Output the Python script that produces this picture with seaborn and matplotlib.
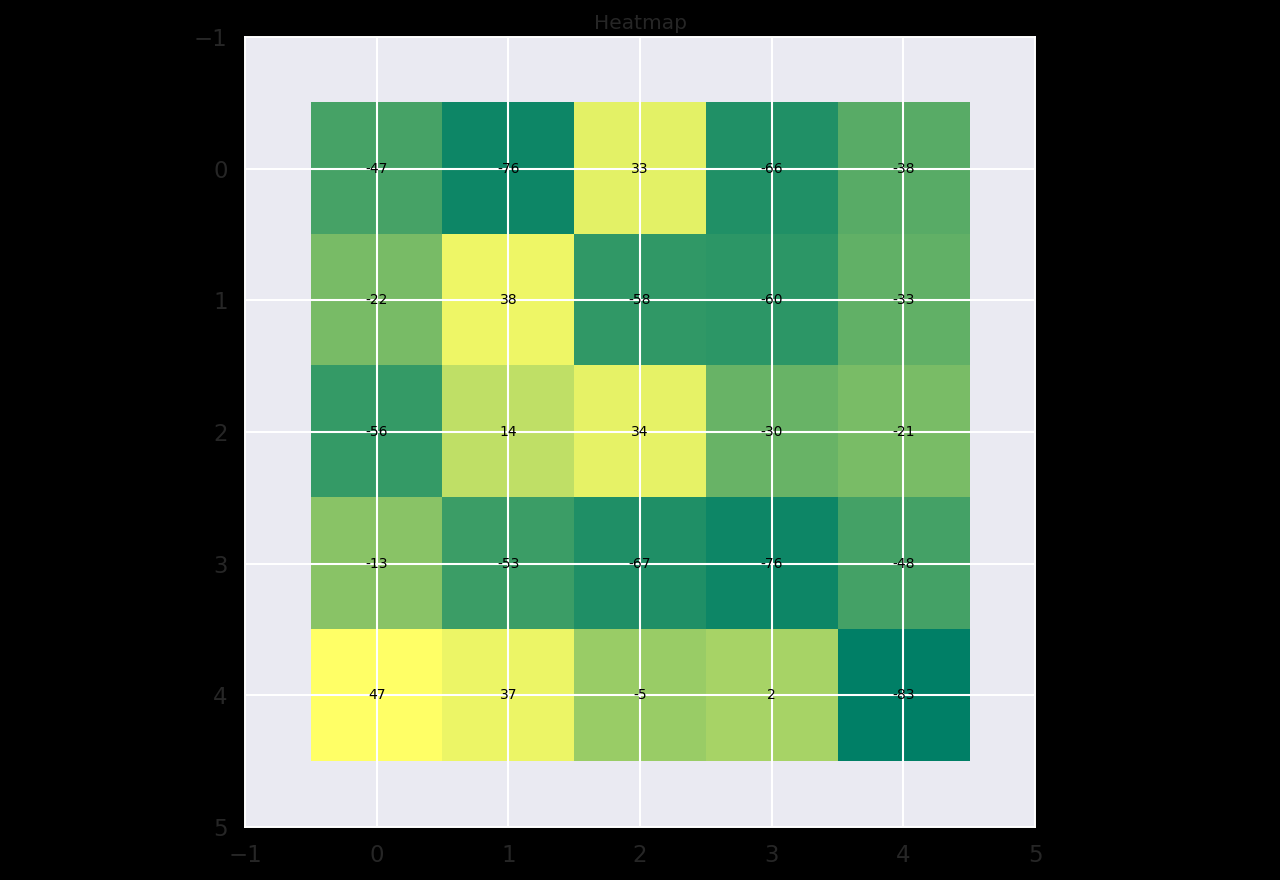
import numpy as np
import matplotlib
matplotlib.use("Agg")
import matplotlib.pyplot as plt
import seaborn as sns

rows = [0, 1, 2, 3, 4]
cols = [0, 1, 2, 3, 4]
values = [
    [-47, -76, 33, -66, -38],
    [-22, 38, -58, -60, -33],
    [-56, 14, 34, -30, -21],
    [-13, -53, -67, -76, -48],
    [47, 37, -5, 2, -83],
]
ticks = [-1, 0, 1, 2, 3, 4, 5]

sns.set_theme(style="darkgrid", context="talk")

data = np.array(values)
fig = plt.figure(figsize=(12.8, 8.8), dpi=100, facecolor="black")
ax = fig.add_axes([245/1280, 1-827/880, 790/1280, 790/880])
ax.imshow(data, cmap="summer", interpolation="nearest")
for i in rows:
    for j in cols:
        ax.text(j, i, str(values[i][j]), ha="center", va="center", color="black", fontsize=10)
ax.set_xlim(-1, 5)
ax.set_ylim(5, -1)
ax.set_xticks(ticks)
ax.set_yticks(ticks)
ax.tick_params(labelsize=16.5, colors=".15")
for s in ax.spines.values():
    s.set_visible(True)
    s.set_color("white")
    s.set_linewidth(1.4)
ax.set_title("Heatmap", fontsize=14.5, color=".15")
fig.savefig("out.png", dpi=100, facecolor="black")
